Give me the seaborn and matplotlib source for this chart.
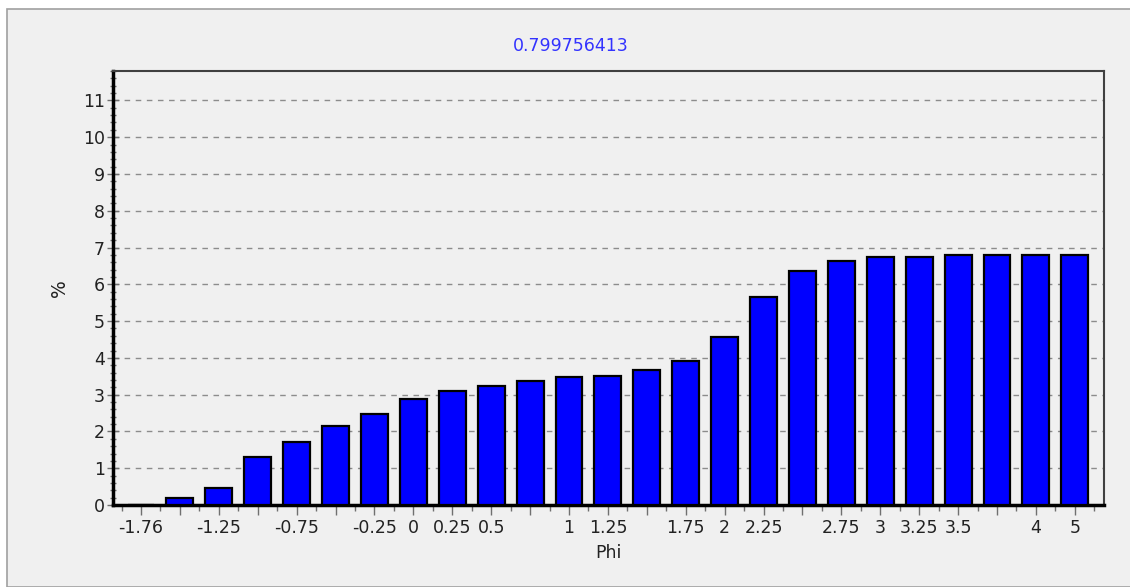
import numpy as np
import pandas as pd
import matplotlib.pyplot as plt
import seaborn as sns
from matplotlib.patches import Rectangle
from matplotlib.ticker import MultipleLocator

phi = ['-1.76', '-1.5', '-1.25', '-1', '-0.75', '-0.5', '-0.25', '0', '0.25', '0.5',
       '0.75', '1', '1.25', '1.5', '1.75', '2', '2.25', '2.5', '2.75', '3',
       '3.25', '3.5', '3.75', '4', '5']
pct = [0.0, 0.2, 0.47, 1.3, 1.72, 2.15, 2.48, 2.87, 3.09, 3.24,
       3.36, 3.47, 3.52, 3.68, 3.92, 4.56, 5.66, 6.36, 6.64, 6.75,
       6.75, 6.8, 6.8, 6.8, 6.8]
hidden = ['-1.5', '-1', '-0.5', '0.75', '1.5', '2.5', '3.75']
title = '0.799756413'

df = pd.DataFrame({'Phi': phi, 'pct': pct})

sns.set_style('white')
plt.rcParams['font.family'] = ['DejaVu Sans']
plt.rcParams['axes.unicode_minus'] = False

bg = '#f0f0f0'
fs = 12.5
fig = plt.figure(figsize=(11.3, 5.87), dpi=100, facecolor='white')
fig.patches.append(Rectangle((7 / 1130, 0), 1.0, 1 - 9 / 587, transform=fig.transFigure,
                             facecolor=bg, edgecolor='#a0a0a0', linewidth=1.2, zorder=-10))
ax = fig.add_axes([113 / 1130, 1 - 505 / 587, (1104 - 113) / 1130, (505 - 71) / 587])
ax.set_facecolor(bg)

sns.barplot(data=df, x='Phi', y='pct', order=phi, color='#0000ff', saturation=1,
            width=0.69, edgecolor='black', linewidth=1.6, ax=ax, zorder=3)

ax.set_xlim(-0.72, len(phi) - 1 + 0.75)
ax.set_ylim(0, 11.8)
ax.yaxis.set_major_locator(MultipleLocator(1))
ax.yaxis.set_minor_locator(MultipleLocator(0.2))
ax.grid(axis='y', which='major', linestyle=(0, (4, 4)), color='#8c8c8c', linewidth=1.0, zorder=0)

ax.set_xticks(range(len(phi)))
ax.set_xticklabels(['' if p in hidden else p for p in phi])
ax.set_xticks(np.arange(-0.5, len(phi), 0.5), minor=True)

ax.tick_params(bottom=True, left=True, which='both')
ax.tick_params(axis='x', which='major', direction='out', length=7, width=1, color='#707070',
               labelsize=fs, labelcolor='#222222', pad=3)
ax.tick_params(axis='x', which='minor', direction='out', length=4, width=1, color='#707070')
ax.tick_params(axis='y', which='major', direction='inout', length=8, width=1, color='#707070',
               labelsize=fs, labelcolor='#222222', pad=2)
ax.tick_params(axis='y', which='minor', direction='inout', length=4, width=1, color='#707070')

for side in ['left', 'bottom']:
    ax.spines[side].set_color('black')
    ax.spines[side].set_linewidth(2.5)
for side in ['top', 'right']:
    ax.spines[side].set_visible(True)
    ax.spines[side].set_color('#404040')
    ax.spines[side].set_linewidth(1.5)

fig.text(571 / 1130, 1 - 46 / 587, title, color='#3333ff', fontsize=fs, ha='center', va='center')
ax.set_xlabel('Phi', fontsize=fs, color='#222222', labelpad=5)
ax.set_ylabel('%', fontsize=fs + 1, color='#222222', labelpad=10)

fig.savefig('out.png', dpi=100, facecolor=fig.get_facecolor())
